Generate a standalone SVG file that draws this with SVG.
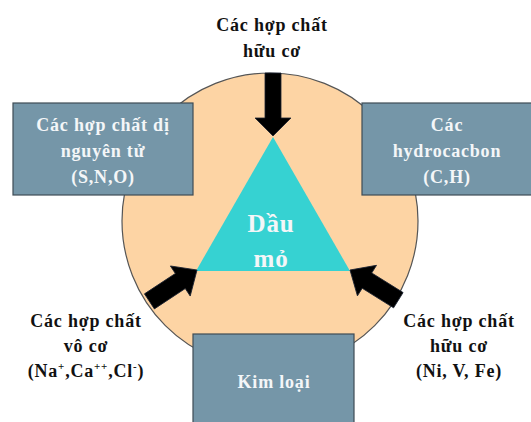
<svg xmlns="http://www.w3.org/2000/svg" width="531" height="422" viewBox="0 0 531 422">
<style>
.lbl{font-family:"Liberation Serif","Times New Roman",serif;font-weight:bold;font-size:18px;letter-spacing:0.8px;text-anchor:middle;fill:#111}
.wl{font-family:"Liberation Serif","Times New Roman",serif;font-weight:bold;font-size:18px;letter-spacing:0.8px;text-anchor:middle;fill:#f4f6f8}
.box{fill:#7596a8;stroke:#3e4c55;stroke-width:1.2}
.arr{fill:#000;stroke:#1a2230;stroke-width:0.8}
</style>
<rect width="531" height="422" fill="#fff"/>
<g id="oil-circle">
<circle cx="270" cy="221" r="148" fill="#fdd4a4" stroke="#555" stroke-width="1.2"/>
</g>
<g id="box-hetero">
<rect class="box" x="13" y="103" width="180" height="92"/>
<text class="wl" x="103" y="131">Các hợp chất dị</text>
<text class="wl" x="103" y="157">nguyên tử</text>
<text class="wl" x="103" y="183">(S,N,O)</text>
</g>
<g id="box-hydro">
<rect class="box" x="362" y="103" width="180" height="92"/>
<text class="wl" x="447" y="131">Các</text>
<text class="wl" x="447" y="157">hydrocacbon</text>
<text class="wl" x="447" y="183">(C,H)</text>
</g>
<g id="box-metal">
<rect class="box" x="193" y="334" width="161" height="100"/>
<text class="wl" x="274" y="388">Kim loại</text>
</g>
<g id="oil-triangle">
<polygon points="273,137 350,271 196,271" fill="#36d2d2"/>
<text class="wl" x="271" y="232" style="font-size:25px">Dầu</text>
<text class="wl" x="271" y="267" style="font-size:25px">mỏ</text>
</g>
<g id="connectors">
<polygon class="arr" transform="translate(273,136) rotate(90)" points="-63,-8 -18,-8 -18,-18 0,0 -18,18 -18,8 -63,8"/>
<polygon class="arr" transform="translate(197,270) rotate(-33.4)" points="-57,-9 -20,-9 -20,-18 0,0 -20,18 -20,9 -57,9"/>
<polygon class="arr" transform="translate(350,270) rotate(212)" points="-57,-9 -20,-9 -20,-18 0,0 -20,18 -20,9 -57,9"/>
</g>
<g id="label-top">
<text class="lbl" x="272" y="31">Các hợp chất</text>
<text class="lbl" x="272" y="57">hữu cơ</text>
</g>
<g id="label-inorganic">
<text class="lbl" x="86" y="327">Các hợp chất</text>
<text class="lbl" x="86" y="352">vô cơ</text>
<text class="lbl" x="86" y="377">(Na<tspan dy="-7" font-size="11">+</tspan><tspan dy="7">,Ca</tspan><tspan dy="-7" font-size="11">++</tspan><tspan dy="7">,Cl</tspan><tspan dy="-7" font-size="11">-</tspan><tspan dy="7">)</tspan></text>
</g>
<g id="label-organometal">
<text class="lbl" x="459" y="327">Các hợp chất</text>
<text class="lbl" x="459" y="352">hữu cơ</text>
<text class="lbl" x="459" y="377">(Ni, V, Fe)</text>
</g>
</svg>
